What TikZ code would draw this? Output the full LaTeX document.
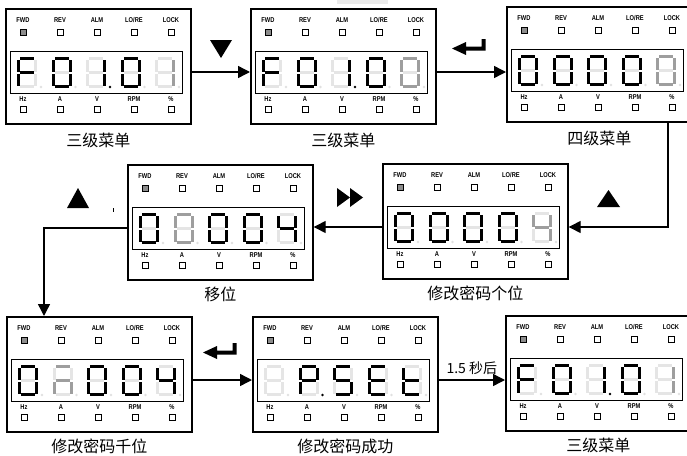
\documentclass[tikz,border=0pt]{standalone}
\usepackage{fontspec}
\newfontfamily\cjk{Noto Sans CJK SC}
\newfontfamily\ledfont{Liberation Sans}[FakeStretch=0.82]
\usetikzlibrary{positioning,calc,arrows.meta}

\colorlet{segK}{black}
\colorlet{segG}{black!38}
\colorlet{segL}{black!10}
\colorlet{dotK}{black}
\colorlet{dotG}{black!38}
\colorlet{dotL}{black!12}

\tikzset{
  panel/.style={draw, line width=1.7pt, minimum width=185pt, minimum height=115pt, inner sep=0pt, anchor=north west},
  lcd/.style={draw, line width=0.9pt, minimum width=172pt, minimum height=42pt, inner sep=0pt},
  ledtxt/.style={font=\ledfont\bfseries\fontsize{7}{7}\selectfont, inner sep=0pt},
  led/.style={draw, line width=0.9pt},
  caption/.style={font=\cjk\fontsize{16}{16}\selectfont, inner sep=0pt},
  conn/.style={line width=1.4pt, -{Triangle[length=12pt, width=12pt]}},
  enterkey/.pic={\fill (0,9.5) -- (14,3) -- (14,7.5) -- (29.5,7.5) -- (29.5,0) -- (33.5,0) -- (33.5,11.5) -- (14,11.5) -- (14,16) -- cycle;}
}

% one seven segment digit: a b c d e f g dp, each K (on), G (blinking) or L (off)
\newcommand\segdraw[8]{%
  \fill[seg#1] (3,0) rectangle (17,3);
  \fill[seg#2] (17,2.5) rectangle (20,14.5);
  \fill[seg#3] (17,16.5) rectangle (20,28.5);
  \fill[seg#4] (3,28) rectangle (17,31);
  \fill[seg#5] (0,16.5) rectangle (3,28.5);
  \fill[seg#6] (0,2.5) rectangle (3,14.5);
  \fill[seg#7] (3,14) rectangle (17,17);
  \fill[dot#8] (24,30) circle (1.4);}
\newcommand\sevenseg[2]{\begin{scope}[shift={#1}]\segdraw#2\end{scope}}

% keypad panel with its five digits
\newcommand\lcdpanel[7]{%
  \node[panel] (#1) at #2 {};
  \begin{scope}[shift={(#1.north west)}]
    \node[lcd] (#1d) at (91,64) {};
    \node[ledtxt] (#1fwd) at (18,12) {FWD};
    \node[ledtxt] (#1rev) at (55,12) {REV};
    \node[ledtxt] (#1alm) at (92,12) {ALM};
    \node[ledtxt] (#1lore) at (129,12) {LO/RE};
    \node[ledtxt] (#1lock) at (166,12) {LOCK};
    \draw[led, fill=black!45] (15,21) rectangle ++(6,6);
    \draw[led] (52,21) rectangle ++(6,6);
    \draw[led] (89,21) rectangle ++(6,6);
    \draw[led] (126,21) rectangle ++(6,6);
    \draw[led] (163,21) rectangle ++(6,6);
    \node[ledtxt] (#1hz) at (18,91) {Hz};
    \node[ledtxt] (#1amp) at (55,91) {A};
    \node[ledtxt] (#1volt) at (92,91) {V};
    \node[ledtxt] (#1rpm) at (129,91) {RPM};
    \node[ledtxt] (#1pct) at (166,91) {\%};
    \draw[led] (15,98) rectangle ++(6,6);
    \draw[led] (52,98) rectangle ++(6,6);
    \draw[led] (89,98) rectangle ++(6,6);
    \draw[led] (126,98) rectangle ++(6,6);
    \draw[led] (163,98) rectangle ++(6,6);
    \sevenseg{(12,49)}{#3}
    \sevenseg{(46.5,49)}{#4}
    \sevenseg{(81,49)}{#5}
    \sevenseg{(115.5,49)}{#6}
    \sevenseg{(150,49)}{#7}
  \end{scope}}

\begin{document}
\begin{tikzpicture}[x=1pt, y=-1pt]
    \useasboundingbox (0,0) rectangle (687,455);
    \fill[black!8] (337,0) rectangle (388,4);

    % row 1
    \lcdpanel{p1}{(5,8)}{KLLLKKKL}{KKKKKKLL}{LKKLLLLK}{KKKKKKLL}{LGGLLLLL}
    \lcdpanel{p2}{(250,8)}{KLLLKKKL}{KKKKKKLL}{LKKLLLLK}{KKKKKKLL}{GGGGGGLL}
    \lcdpanel{p3}{(506,6)}{KKKKKKLL}{KKKKKKLL}{KKKKKKLL}{KKKKKKLL}{GGGGGGLL}
    % row 2
    \lcdpanel{p4}{(127,164)}{KKKKKKLL}{GGGGGGLL}{KKKKKKLL}{KKKKKKLL}{LKKLLKKL}
    \lcdpanel{p5}{(382,163)}{KKKKKKLL}{KKKKKKLL}{KKKKKKLL}{KKKKKKLL}{LGGLLGGL}
    % row 3
    \lcdpanel{p6}{(6,316)}{KKKKKKLL}{GLGLGLGL}{KKKKKKLL}{KKKKKKLL}{LKKLLKKL}
    \lcdpanel{p7}{(252,316)}{LLLLLLLL}{KKLLKKKK}{KLKKLKKL}{KLLKKKKL}{LLLKKKKL}
    \lcdpanel{p8}{(505,315)}{KLLLKKKL}{KKKKKKLL}{LKKLLLLK}{KKKKKKLL}{LGGLLLLL}

    \node[caption, below=8pt of p1] (c1) {三级菜单};
    \node[caption, below=8pt of p2] (c2) {三级菜单};
    \node[caption, below=8pt of p3] (c3) {四级菜单};
    \node[caption, below=6pt of p4] (c4) {移位};
    \node[caption, below=6pt of p5] (c5) {修改密码个位};
    \node[caption, below=6pt of p6] (c6) {修改密码千位};
    \node[caption, below=6pt of p7] (c7) {修改密码成功};
    \node[caption, below=6pt of p8] (c8) {三级菜单};

    % connectors
    \coordinate (p3out) at ($(p3.south west)+(162,0)$);
    \coordinate (p6in) at ($(p6.north west)+(38,0)$);
    \draw[conn] (p1.east |- p1d) -- (p2.west |- p1d);
    \draw[conn] (p2.east |- p2d) -- (p3.west |- p2d);
    \draw[conn] (p3out) |- (p5.east |- p5d);
    \draw[conn] (p5.west |- p5d) -- (p4.east |- p5d);
    \draw[conn] (p4.west |- p4d) -| (p6in);
    \draw[conn] (p6.east |- p6d) -- (p7.west |- p6d);
    \draw[conn] (p7.east |- p7d) -- node[above=5pt, inner sep=0pt, font=\cjk\fontsize{14}{14}\selectfont] (wait) {1.5 秒后} (p8.west |- p7d);

    % key symbols
    \fill (210,40) -- (232,40) -- (221,58) -- cycle;
    \pic at (452,39) {enterkey};
    \fill (597,207) -- (620,207) -- (608.5,190) -- cycle;
    \fill (337,188) -- (350,197.5) -- (337,207) -- cycle;
    \fill (350,188) -- (363,197.5) -- (350,207) -- cycle;
    \fill (67,208) -- (89,208) -- (78,188) -- cycle;
    \draw[line width=0.6pt] (113,208) -- (113,212);
    \pic at (203,343) {enterkey};
\end{tikzpicture}
\end{document}
